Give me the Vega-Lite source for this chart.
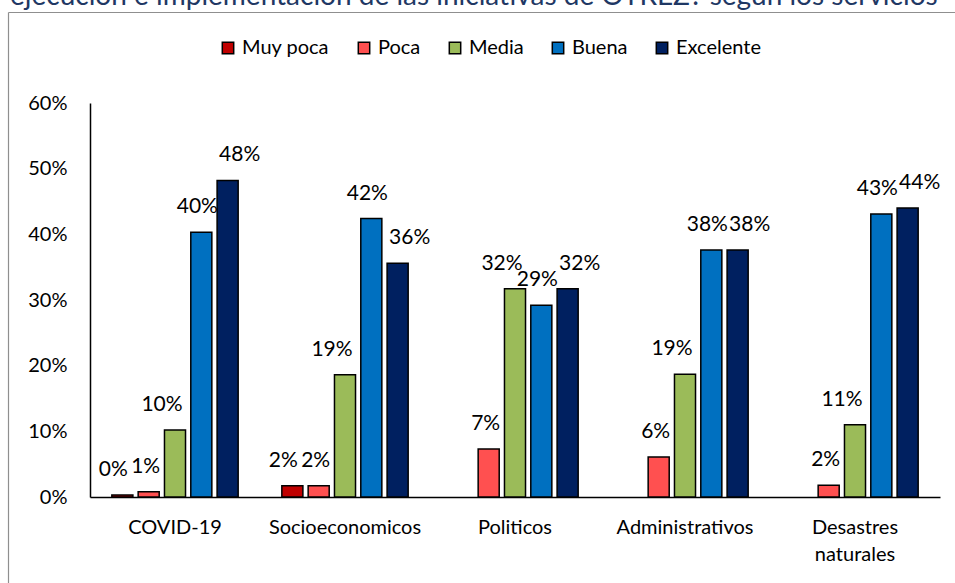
{
  "$schema": "https://vega.github.io/schema/vega-lite/v6.json",
  "width": 947,
  "height": 571,
  "autosize": {"type": "none"},
  "padding": {"left": 8, "top": 12, "right": 0, "bottom": 0},
  "background": "white",
  "config": {"view": {"stroke": null}, "font": "Lato"},
  "title": {
    "text": "ejecución e implementación de las iniciativas de OTREZ? según los servicios",
    "anchor": "start",
    "frame": "group",
    "orient": "top",
    "offset": -21,
    "dx": 2,
    "baseline": "alphabetic",
    "fontSize": 28,
    "fontWeight": "normal",
    "font": "Lato",
    "color": "#1F3864"
  },
  "data": {
    "values": [
      {"categoria": "COVID-19", "nivel": "Muy poca", "valor": 0.003},
      {"categoria": "COVID-19", "nivel": "Poca", "valor": 0.008},
      {"categoria": "COVID-19", "nivel": "Media", "valor": 0.102},
      {"categoria": "COVID-19", "nivel": "Buena", "valor": 0.403},
      {"categoria": "COVID-19", "nivel": "Excelente", "valor": 0.482},
      {"categoria": "Socioeconomicos", "nivel": "Muy poca", "valor": 0.017},
      {"categoria": "Socioeconomicos", "nivel": "Poca", "valor": 0.017},
      {"categoria": "Socioeconomicos", "nivel": "Media", "valor": 0.186},
      {"categoria": "Socioeconomicos", "nivel": "Buena", "valor": 0.424},
      {"categoria": "Socioeconomicos", "nivel": "Excelente", "valor": 0.356},
      {"categoria": "Politicos", "nivel": "Poca", "valor": 0.073},
      {"categoria": "Politicos", "nivel": "Media", "valor": 0.317},
      {"categoria": "Politicos", "nivel": "Buena", "valor": 0.292},
      {"categoria": "Politicos", "nivel": "Excelente", "valor": 0.317},
      {"categoria": "Administrativos", "nivel": "Poca", "valor": 0.061},
      {"categoria": "Administrativos", "nivel": "Media", "valor": 0.187},
      {"categoria": "Administrativos", "nivel": "Buena", "valor": 0.376},
      {"categoria": "Administrativos", "nivel": "Excelente", "valor": 0.376},
      {"categoria": "Desastres naturales", "nivel": "Poca", "valor": 0.018},
      {"categoria": "Desastres naturales", "nivel": "Media", "valor": 0.110},
      {"categoria": "Desastres naturales", "nivel": "Buena", "valor": 0.431},
      {"categoria": "Desastres naturales", "nivel": "Excelente", "valor": 0.440}
    ]
  },
  "layer": [
    {
      "encoding": {
        "x": {
          "field": "categoria",
          "type": "nominal",
          "sort": ["COVID-19", "Socioeconomicos", "Politicos", "Administrativos", "Desastres naturales"],
          "scale": {"range": [82, 932], "paddingInner": 0, "paddingOuter": 0},
          "axis": {
            "title": null,
            "orient": "bottom",
            "offset": -86,
            "labelAngle": 0,
            "labelFontSize": 20,
            "labelColor": "#000000",
            "labelPadding": 20,
            "labelLineHeight": 27,
            "labelExpr": "datum.label == 'Desastres naturales' ? ['Desastres', 'naturales'] : datum.label",
            "ticks": false,
            "domainColor": "#000000",
            "domainWidth": 1.5
          }
        },
        "xOffset": {
          "field": "nivel",
          "type": "nominal",
          "sort": ["Muy poca", "Poca", "Media", "Buena", "Excelente"],
          "scale": {"paddingInner": 0.2, "paddingOuter": 0.83}
        },
        "y": {
          "field": "valor",
          "type": "quantitative",
          "scale": {"domain": [0, 0.6], "range": [485, 91], "nice": false},
          "axis": {
            "title": null,
            "orient": "left",
            "offset": -82,
            "values": [0, 0.1, 0.2, 0.3, 0.4, 0.5, 0.6],
            "format": ".0%",
            "grid": false,
            "ticks": false,
            "labelFontSize": 20,
            "labelColor": "#000000",
            "labelPadding": 23,
            "domainColor": "#000000",
            "domainWidth": 1.5
          }
        }
      },
      "layer": [
        {
          "mark": {"type": "bar", "stroke": "#000000", "strokeWidth": 1.5},
          "encoding": {
            "color": {
              "field": "nivel",
              "type": "nominal",
              "sort": ["Muy poca", "Poca", "Media", "Buena", "Excelente"],
              "scale": {
                "domain": ["Muy poca", "Poca", "Media", "Buena", "Excelente"],
                "range": ["#C00000", "#FF5050", "#9BBB59", "#0070C0", "#002060"]
              },
              "legend": {
                "title": null,
                "orient": "none",
                "direction": "horizontal",
                "legendX": 210,
                "legendY": 26,
                "symbolType": "square",
                "symbolSize": 130,
                "symbolStrokeColor": "#000000",
                "symbolStrokeWidth": 1.5,
                "symbolOpacity": 1,
                "labelFontSize": 20,
                "labelColor": "#000000",
                "labelOffset": 4,
                "columnPadding": 24
              }
            }
          }
        },
        {
          "mark": {
            "type": "text",
            "dy": -19,
            "dx": {"expr": "datum.nivel == 'Muy poca' ? -9 : datum.nivel == 'Poca' ? -3 : datum.nivel == 'Media' ? -13 : datum.nivel == 'Buena' ? -4 : 12"},
            "baseline": "alphabetic",
            "fontSize": 21,
            "color": "#000000"
          },
          "encoding": {
            "text": {"field": "valor", "type": "quantitative", "format": ".0%"}
          }
        }
      ]
    },
    {
      "mark": {"type": "point", "opacity": 0},
      "encoding": {
        "x": {
          "field": "categoria",
          "type": "nominal",
          "scale": {"range": [0, 947]},
          "axis": {"orient": "top", "title": null, "labels": false, "ticks": false, "domainColor": "#8F8F8F", "domainWidth": 1.2}
        },
        "y": {
          "field": "valor",
          "type": "quantitative",
          "scale": {"range": [571, 0]},
          "axis": {"orient": "left", "title": null, "labels": false, "ticks": false, "grid": false, "domainColor": "#8F8F8F", "domainWidth": 1.2}
        }
      }
    }
  ],
  "resolve": {
    "scale": {"x": "independent", "y": "independent"},
    "axis": {"x": "independent", "y": "independent"}
  }
}
